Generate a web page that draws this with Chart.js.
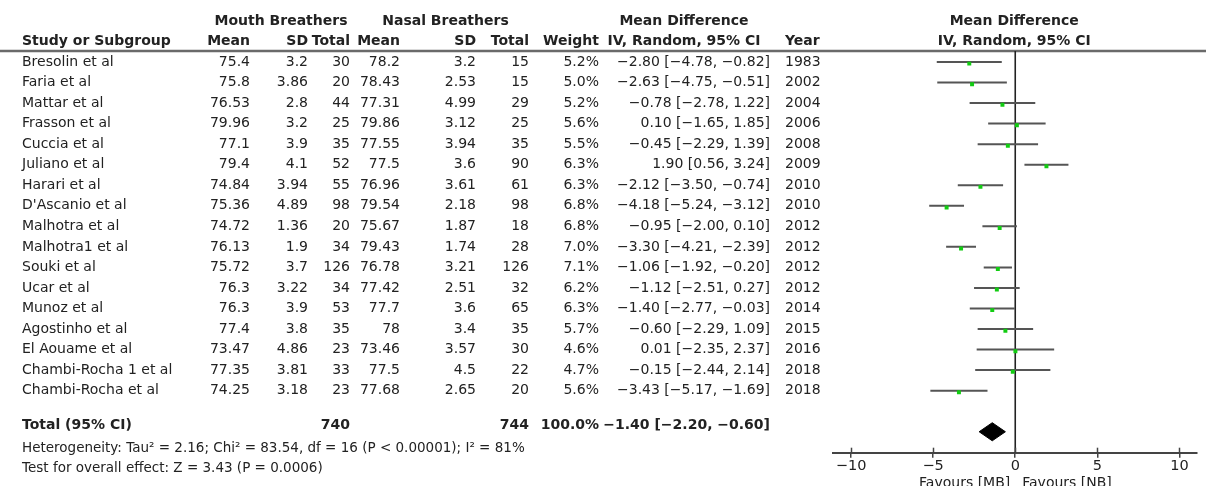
<!DOCTYPE html>
<html>
<head>
<meta charset="utf-8">
<script src="https://cdn.jsdelivr.net/npm/chart.js@4.4.1/dist/chart.umd.min.js"></script>
<style>
  html, body { margin: 0; padding: 0; background: #ffffff; }
  #wrap { width: 1206px; height: 486px; position: relative; overflow: hidden; }
  canvas { display: block; }
</style>
</head>
<body>
<div id="wrap"><canvas id="c" width="1206" height="486"></canvas></div>
<script>
// ---------------- data ----------------
const studies = ["Bresolin et al","Faria et al","Mattar et al","Frasson et al","Cuccia et al","Juliano et al","Harari et al","D'Ascanio et al","Malhotra et al","Malhotra1 et al","Souki et al","Ucar et al","Munoz et al","Agostinho et al","El Aouame et al","Chambi-Rocha 1 et al","Chambi-Rocha et al"];
const mbMean  = [75.4,75.8,76.53,79.96,77.1,79.4,74.84,75.36,74.72,76.13,75.72,76.3,76.3,77.4,73.47,77.35,74.25];
const mbSD    = [3.2,3.86,2.8,3.2,3.9,4.1,3.94,4.89,1.36,1.9,3.7,3.22,3.9,3.8,4.86,3.81,3.18];
const mbTotal = [30,20,44,25,35,52,55,98,20,34,126,34,53,35,23,33,23];
const nbMean  = [78.2,78.43,77.31,79.86,77.55,77.5,76.96,79.54,75.67,79.43,76.78,77.42,77.7,78,73.46,77.5,77.68];
const nbSD    = [3.2,2.53,4.99,3.12,3.94,3.6,3.61,2.18,1.87,1.74,3.21,2.51,3.6,3.4,3.57,4.5,2.65];
const nbTotal = [15,15,29,25,35,90,61,98,18,28,126,32,65,35,30,22,20];
const weights = [5.2,5.0,5.2,5.6,5.5,6.3,6.3,6.8,6.8,7.0,7.1,6.2,6.3,5.7,4.6,4.7,5.6];
const meanDiff = [-2.80,-2.63,-0.78,0.10,-0.45,1.90,-2.12,-4.18,-0.95,-3.30,-1.06,-1.12,-1.40,-0.60,0.01,-0.15,-3.43];
const ciLow   = [-4.78,-4.75,-2.78,-1.65,-2.29,0.56,-3.50,-5.24,-2.00,-4.21,-1.92,-2.51,-2.77,-2.29,-2.35,-2.44,-5.17];
const ciHigh  = [-0.82,-0.51,1.22,1.85,1.39,3.24,-0.74,-3.12,0.10,-2.39,-0.20,0.27,-0.03,1.09,2.37,2.14,-1.69];
const years   = [1983,2002,2004,2006,2008,2009,2010,2010,2012,2012,2012,2012,2014,2015,2016,2018,2018];
const totalMB = 740, totalNB = 744, totalWeight = 100.0;
const pooledMD = -1.40, pooledLow = -2.20, pooledHigh = -0.60;
const xTicks = [-10, -5, 0, 5, 10];
const heterogeneityText = "Heterogeneity: Tau² = 2.16; Chi² = 83.54, df = 16 (P < 0.00001); I² = 81%";
const overallText = "Test for overall effect: Z = 3.43 (P = 0.0006)";
const favLeft = "Favours [MB]", favRight = "Favours [NB]";

// ---------------- helpers ----------------
const MINUS = "\u2212";
function fmt2(v) { return (v < 0 ? MINUS : "") + Math.abs(v).toFixed(2); }
function ciStr(m, lo, hi) { return fmt2(m) + " [" + fmt2(lo) + ", " + fmt2(hi) + "]"; }

const FONT = '"DejaVu Sans", "Liberation Sans", sans-serif';
const TXT = '#222222';
const totalRow = 18;          // row index for the pooled diamond
const yTop = -0.535, yBottom = 19.02;

// column layout (right-aligned x positions)
const col = { study: 22, mbMean: 250, mbSD: 308, mbTotal: 350, nbMean: 400, nbSD: 476, nbTotal: 529, weight: 599, ci: 770, year: 785 };

// ---------------- datasets ----------------
const ciDatasets = studies.map((s, i) => ({
  type: 'line',
  data: [{x: ciLow[i], y: i}, {x: ciHigh[i], y: i}],
  borderColor: '#555555', borderWidth: 2, pointRadius: 0, fill: false, order: 2
}));
const pointDataset = {
  type: 'scatter',
  data: meanDiff.map((m, i) => ({x: m, y: i + 0.08})),
  pointStyle: 'rect', pointRadius: 2.8, backgroundColor: '#12cc12', borderWidth: 0, order: 1
};
const diamondDataset = {
  type: 'line',
  data: [{x: pooledLow, y: totalRow}, {x: pooledMD, y: totalRow - 0.44}, {x: pooledHigh, y: totalRow}, {x: pooledMD, y: totalRow + 0.44}, {x: pooledLow, y: totalRow}],
  borderColor: '#000', borderWidth: 1, backgroundColor: '#000', fill: 'shape', pointRadius: 0, tension: 0, order: 1
};
const zeroLine = {
  type: 'line',
  data: [{x: 0, y: yTop}, {x: 0, y: yBottom}],
  borderColor: '#222', borderWidth: 1.6, pointRadius: 0, fill: false, order: 3
};

// ---------------- table plugin ----------------
const tablePlugin = {
  id: 'forestTable',
  beforeDatasetsDraw(chart) {
    const ctx = chart.ctx, ya = chart.scales.y;
    const yLine = ya.getPixelForValue(yTop);
    ctx.save();
    ctx.strokeStyle = '#6a6a6a'; ctx.lineWidth = 2.5;
    ctx.beginPath(); ctx.moveTo(0, yLine); ctx.lineTo(1206, yLine); ctx.stroke();
    ctx.restore();
  },
  afterDraw(chart) {
    const ctx = chart.ctx, ya = chart.scales.y, xa = chart.scales.x;
    const ca = chart.chartArea;
    ctx.save();
    ctx.fillStyle = TXT;
    ctx.textBaseline = 'middle';
    const put = (t, x, y, align, bold, size) => {
      ctx.font = (bold ? 'bold ' : '') + (size || 14) + 'px ' + FONT;
      ctx.textAlign = align; ctx.fillText(t, x, y);
    };
    // headers
    const h1 = ya.getPixelForValue(-2), h2 = ya.getPixelForValue(-1);
    const zeroX = xa.getPixelForValue(0);
    put("Mouth Breathers", (col.mbMean - 38 + col.mbTotal) / 2, h1, 'center', true);
    put("Nasal Breathers", (col.nbMean - 38 + col.nbTotal) / 2, h1, 'center', true);
    put("Mean Difference", 684, h1, 'center', true);
    put("Mean Difference", zeroX - 1, h1, 'center', true);
    put("Study or Subgroup", col.study, h2, 'left', true);
    put("Mean", col.mbMean, h2, 'right', true);
    put("SD", col.mbSD, h2, 'right', true);
    put("Total", col.mbTotal, h2, 'right', true);
    put("Mean", col.nbMean, h2, 'right', true);
    put("SD", col.nbSD, h2, 'right', true);
    put("Total", col.nbTotal, h2, 'right', true);
    put("Weight", col.weight, h2, 'right', true);
    put("IV, Random, 95% CI", 684, h2, 'center', true);
    put("Year", col.year, h2, 'left', true);
    put("IV, Random, 95% CI", zeroX - 1, h2, 'center', true);
    // study rows
    studies.forEach((s, i) => {
      const y = ya.getPixelForValue(i);
      put(s, col.study, y, 'left');
      put(String(mbMean[i]), col.mbMean, y, 'right');
      put(String(mbSD[i]), col.mbSD, y, 'right');
      put(String(mbTotal[i]), col.mbTotal, y, 'right');
      put(String(nbMean[i]), col.nbMean, y, 'right');
      put(String(nbSD[i]), col.nbSD, y, 'right');
      put(String(nbTotal[i]), col.nbTotal, y, 'right');
      put(weights[i].toFixed(1) + "%", col.weight, y, 'right');
      put(ciStr(meanDiff[i], ciLow[i], ciHigh[i]), col.ci, y, 'right');
      put(String(years[i]), col.year, y, 'left');
    });
    // total row
    const yt = ya.getPixelForValue(17.7);
    put("Total (95% CI)", col.study, yt, 'left', true);
    put(String(totalMB), col.mbTotal, yt, 'right', true);
    put(String(totalNB), col.nbTotal, yt, 'right', true);
    put(totalWeight.toFixed(1) + "%", col.weight, yt, 'right', true);
    put(ciStr(pooledMD, pooledLow, pooledHigh), col.ci, yt, 'right', true);
    put(heterogeneityText, col.study, ya.getPixelForValue(18.8), 'left', false, 13.5);
    put(overallText, col.study, ya.getPixelForValue(19.77), 'left', false, 13.5);
    // upward tick stubs on the x axis
    ctx.strokeStyle = '#444'; ctx.lineWidth = 1.5;
    xTicks.forEach(v => {
      const px = Math.round(xa.getPixelForValue(v)) + 0.5;
      ctx.beginPath(); ctx.moveTo(px, ca.bottom - 5); ctx.lineTo(px, ca.bottom); ctx.stroke();
    });
    // favours labels
    ctx.textBaseline = 'top';
    put(favLeft, zeroX - 5, 476, 'right', false, 14);
    put(favRight, zeroX + 7, 476, 'left', false, 14);
    ctx.restore();
  }
};

// ---------------- chart ----------------
new Chart(document.getElementById('c'), {
  type: 'scatter',
  data: { datasets: [zeroLine, ...ciDatasets, diamondDataset, pointDataset] },
  options: {
    responsive: false, animation: false, devicePixelRatio: 1,
    layout: { padding: { left: 833, right: 9, top: 51, bottom: 0 } },
    plugins: { legend: { display: false }, tooltip: { enabled: false } },
    scales: {
      x: {
        type: 'linear', min: -11.1, max: 11.07, position: 'bottom',
        afterBuildTicks: s => { s.ticks = xTicks.map(v => ({ value: v })); },
        afterFit: s => { s.height = 33.3; },
        ticks: {
          autoSkip: false, maxRotation: 0, padding: 0, color: TXT,
          font: { family: FONT, size: 14.5 },
          callback: v => (v < 0 ? MINUS + Math.abs(v) : String(v))
        },
        grid: { display: true, drawOnChartArea: false, drawTicks: true, tickLength: 5, color: '#444', lineWidth: 1.5 },
        border: { display: true, color: '#444', width: 2 }
      },
      y: { type: 'linear', reverse: true, min: yTop, max: yBottom, display: false }
    }
  },
  plugins: [tablePlugin]
});
</script>
</body>
</html>
